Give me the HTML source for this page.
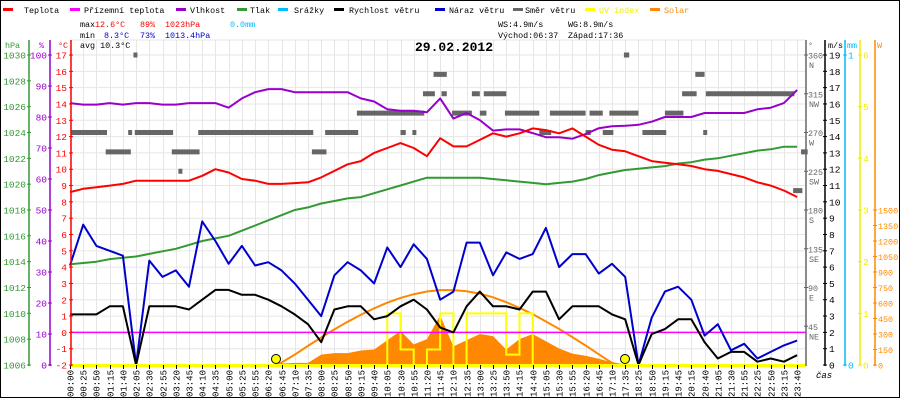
<!DOCTYPE html>
<html><head><meta charset="utf-8"><style>
html,body{margin:0;padding:0;background:#fff}
svg{display:block;font-family:"Liberation Mono",monospace}
</style></head><body>
<svg id="chart" width="900" height="400" viewBox="0 0 900 400">
<rect x="0.5" y="0.5" width="899" height="397" fill="#fff" stroke="#000"/>
<g id="grid"></g>
<g id="series"></g>
<g id="axes"></g>
<g font-size="8.4">
 <g><rect x="3" y="8" width="10" height="3" fill="#f00"/><text x="24" y="13">Teplota</text></g>
 <g><rect x="70" y="8" width="10" height="3" fill="#f0f"/><text x="84" y="13">Přízemní teplota</text></g>
 <g><rect x="176" y="8" width="10" height="3" fill="#90c"/><text x="190" y="13">Vlhkost</text></g>
 <g><rect x="237" y="8" width="10" height="3" fill="#393"/><text x="250" y="13">Tlak</text></g>
 <g><rect x="278" y="8" width="10" height="3" fill="#0bf"/><text x="294" y="13">Srážky</text></g>
 <g><rect x="334" y="8" width="10" height="3" fill="#000"/><text x="349" y="13">Rychlost větru</text></g>
 <g><rect x="435" y="8" width="10" height="3" fill="#00c"/><text x="449" y="13">Náraz větru</text></g>
 <g><rect x="513" y="8" width="10" height="3" fill="#666"/><text x="525" y="13">Směr větru</text></g>
 <g><rect x="585" y="8" width="10" height="3" fill="#ff0"/><text x="599" y="13" fill="#ee0">UV index</text></g>
 <g><rect x="650" y="8" width="10" height="3" fill="#f80"/><text x="664" y="13" fill="#f80">Solar</text></g>
</g>
<g font-size="8.4">
 <text x="80" y="27">max</text>
 <text x="95" y="27" fill="#f00">12.6°C</text>
 <text x="140" y="27" fill="#f00">89%</text>
 <text x="165" y="27" fill="#f00">1023hPa</text>
 <text x="230" y="27" fill="#0bf">0.0mm</text>
 <text x="80" y="38">min</text>
 <text x="104" y="38" fill="#00c">8.3°C</text>
 <text x="140" y="38" fill="#00c">73%</text>
 <text x="165" y="38" fill="#00c">1013.4hPa</text>
 <text x="80" y="48">avg 10.3°C</text>
 <text x="498" y="27">WS:4.9m/s</text>
 <text x="568" y="27">WG:8.9m/s</text>
 <text x="498" y="38">Východ:06:37</text>
 <text x="568" y="38">Západ:17:36</text>
</g>
<text x="415" y="51" font-size="13" font-weight="bold">29.02.2012</text>
<text x="816" y="378" font-size="9" font-style="italic">čas</text>
</svg>
<script>
const timeLabels=["00:00","00:25","00:50","01:15","01:40","02:05","02:30","02:55","03:20","03:45","04:10","04:35","05:00","05:25","05:55","06:20","06:45","07:10","07:35","08:00","08:25","08:50","09:15","09:40","10:05","10:30","10:55","11:20","11:45","12:10","12:35","13:00","13:25","13:50","14:15","14:40","15:05","15:30","15:55","16:20","16:45","17:10","17:35","18:25","18:50","19:15","19:45","20:15","20:40","21:05","21:30","21:55","22:25","22:50","23:15","23:40"];
const tempC=[8.6,8.8,8.9,9.0,9.1,9.3,9.3,9.3,9.3,9.3,9.6,10.0,9.8,9.4,9.3,9.1,9.1,9.15,9.2,9.5,9.9,10.3,10.5,11.0,11.3,11.6,11.3,10.8,11.9,11.4,11.4,11.8,12.2,12.0,12.2,12.5,12.4,12.2,12.5,12.0,11.5,11.2,11.1,10.8,10.5,10.4,10.3,10.2,10.0,9.9,9.7,9.5,9.2,9.0,8.7,8.3];
const humidity=[84.5,84,84,84.5,84,84.5,84.5,84,84,84.5,84.5,84.5,83,86,88,89,89,88,88,88,88,88,86,85,82.5,82,82,81.5,86,79.5,81.3,79,75.6,76,76,74.8,73.5,73.5,73,74.5,76.4,77,77.2,77.5,78.5,80,80,80,81.3,81.3,81.3,81.3,82.5,83,84.5,88.7];
const pressure=[1013.8,1013.9,1014.0,1014.2,1014.3,1014.4,1014.6,1014.8,1015.0,1015.3,1015.6,1015.8,1016.0,1016.4,1016.8,1017.2,1017.6,1018.0,1018.2,1018.5,1018.7,1018.9,1019.0,1019.3,1019.6,1019.9,1020.2,1020.5,1020.5,1020.5,1020.5,1020.5,1020.4,1020.3,1020.2,1020.1,1020.0,1020.1,1020.2,1020.4,1020.7,1020.9,1021.1,1021.2,1021.3,1021.4,1021.6,1021.7,1021.9,1022.0,1022.2,1022.4,1022.6,1022.7,1022.9,1022.9];
const windGust=[6.1,8.6,7.3,7.0,6.7,0,6.4,5.4,5.8,4.8,8.8,7.6,6.2,7.3,6.1,6.3,5.8,5.0,4.0,3.0,5.5,6.3,5.8,5.0,7.2,6.0,7.4,6.5,4.0,4.5,7.5,7.5,5.5,6.9,6.5,6.8,8.4,6.0,6.8,6.8,5.6,6.2,5.4,0,2.9,4.5,4.8,4.0,1.8,2.5,0.9,1.3,0.4,0.8,1.2,1.5];
const windSpeed=[3.1,3.1,3.1,3.6,3.6,0,3.6,3.6,3.6,3.4,4.0,4.6,4.6,4.3,4.3,4.0,3.6,3.1,2.5,1.4,3.4,3.6,3.6,2.8,3.0,3.6,4.0,3.4,2.3,2.0,3.6,4.5,3.6,3.6,3.4,4.5,4.5,2.8,3.6,3.6,3.6,3.1,2.8,0,1.9,2.2,2.8,2.8,1.4,0.4,0.8,0.8,0.2,0.4,0.2,0.6];
const solarIdx=[16,17,18,19,20,21,22,23,24,25,26,27,28,29,30,31,32,33,34,35,36,37,38,39,40,41,42];
const solarW=[15,20,20,100,115,115,140,150,240,330,200,250,480,180,240,300,280,150,250,300,230,160,110,90,60,25,5];
const solarMaxIdx=[15.7,17,18,19,20,21,22,23,24,25,26,27,28,29,30,31,32,33,34,35,36,37,38,39,40,41,41.7];
const solarMaxW=[0,100,185,266,345,418,486,548,603,649,685,711,724,725,714,690,655,608,553,492,421,349,270,189,103,20,0];
const uvIdx=[23,24,25,26,27,28,29,30,31,32,33,34,35];
const uvVal=[0,1,0.3,0,0.3,1,0,1,1,1,0.2,1,0];
const dirStart=[0.1,2.7,4.4,4.8,4.9,7.7,8.2,9.7,18.3,19.3,21.7,25.0,25.9,26.7,27.5,28.1,28.9,30.4,31.0,31.3,32.9,35.5,36.3,39.0,39.3,40.3,40.8,41.9,43.3,45.0,46.3,47.3,48.1,47.9,54.7,55.3];
const dirEnd=[2.8,4.6,4.7,5.1,7.8,9.8,8.5,18.4,19.4,21.8,26.8,25.4,26.2,27.6,28.5,28.5,30.4,31.0,31.5,33.0,35.5,36.4,39.0,39.4,40.3,41.1,43.0,42.3,45.1,46.4,47.4,48.0,54.8,48.2,55.4,55.8];
const dirDeg=[270,247.5,270,360,270,247.5,225,270,247.5,270,292.5,270,270,315,337.5,315,292.5,315,292.5,315,292.5,270,292.5,270,292.5,270,292.5,360,270,292.5,315,337.5,315,270,202.5,247.5];

const NS='http://www.w3.org/2000/svg';
const X0=70, DX=13.22, YT=55, YB=365;
const xAt=i=>X0+DX*i;
const yTemp=v=>332.4-v*16.316;
const yHum=v=>YB-(YB-YT)*v/100;
const yPress=v=>YB-(YB-YT)*(v-1006)/24;
const yWind=v=>YB-(YB-YT)*v/19;
const yDir=v=>YB-(YB-YT)*v/360;
const ySolar=v=>YB-155*v/1500;
const yUV=v=>YB-(YB-YT)*v/6;
function mk(tag,attrs,parent){const e=document.createElementNS(NS,tag);for(const k in attrs)e.setAttribute(k,attrs[k]);parent.appendChild(e);return e;}
const grid=document.getElementById('grid'),series=document.getElementById('series'),axes=document.getElementById('axes');

for(let t=-2;t<=17;t++){const l=mk('line',{x1:71,x2:806,y1:yTemp(t),y2:yTemp(t),stroke:'#e6e6e6'},grid);

}
mk('line',{x1:71,x2:806,y1:40,y2:40,stroke:'#e6e6e6'},grid);
timeLabels.forEach((lab,i)=>{const x=Math.round(xAt(i))+0.5;
const g=mk('line',{x1:x,x2:x,y1:40,y2:365,stroke:'#e6e6e6'},grid);


const tk=mk('line',{x1:x,x2:x,y1:365,y2:369,stroke:'#000'},axes);


const t=mk('text',{transform:`translate(${x+3},370) rotate(-90)`,'text-anchor':'end','font-size':'9'},axes);
t.textContent=lab;

});

let d=`M${xAt(solarIdx[0])},${YB}`;solarIdx.forEach((s,k)=>{d+=` L${xAt(s)},${ySolar(solarW[k])}`;});d+=` L${xAt(solarIdx[solarIdx.length-1])},${YB} Z`;
const sa=mk('path',{d:d,fill:'#f80'},series);


const sm=mk('polyline',{points:solarMaxIdx.map((s,k)=>`${xAt(s)},${ySolar(solarMaxW[k])}`).join(' '),fill:'none',stroke:'#f80','stroke-width':2},series);


let up=[];uvIdx.forEach((s,k)=>{up.push(`${xAt(s)},${yUV(uvVal[k])}`);if(k<uvIdx.length-1)up.push(`${xAt(uvIdx[k+1])},${yUV(uvVal[k])}`);});
const uv=mk('polyline',{points:up.join(' '),fill:'none',stroke:'#ff0','stroke-width':2},series);


const gt=mk('line',{x1:71,x2:806,y1:yTemp(0),y2:yTemp(0),stroke:'#f0f','stroke-width':1.5},series);


dirDeg.forEach((v,k)=>{const r=mk('rect',{x:xAt(dirStart[k]),y:yDir(v)-2.5,width:Math.max(3,(dirEnd[k]-dirStart[k])*DX),height:5,fill:'#666'},series);

});
function line(arr,fy,color,name){const p=mk('polyline',{points:arr.map((v,i)=>`${xAt(i).toFixed(1)},${fy(v).toFixed(1)}`).join(' '),fill:'none',stroke:color,'stroke-width':2,'stroke-linejoin':'round'},series);

}
line(pressure,yPress,'#393','pressure-line');
line(humidity,yHum,'#90c','humidity-line');
line(tempC,yTemp,'#f00','temperature-line');
line(windGust,yWind,'#00c','wind-gust-line');
line(windSpeed,yWind,'#000','wind-speed-line');
[276,625].forEach((x,k)=>{const c=mk('circle',{cx:x,cy:359,r:4.5,fill:'#ff0',stroke:'#000'},series);

});
const bl=mk('line',{x1:71,x2:806,y1:365.5,y2:365.5,stroke:'#ff0','stroke-width':3},series);



function axis(x,color,name,title,titleX){const a=mk('line',{x1:x,x2:x,y1:40,y2:366,stroke:color,'stroke-width':1.5},axes);


const t=mk('text',{x:titleX,y:48,fill:color,'font-size':'8.4'},axes);t.textContent=title;

}
function tick(x,y,color,label,lx,anchor,name,fs){const l=mk('line',{x1:x-2,x2:x+2,y1:y,y2:y,stroke:color},axes);


const t=mk('text',{x:lx,y:y+3.5,fill:color,'font-size':fs||'9.5','text-anchor':anchor},axes);t.textContent=label;

}
axis(29,'#393','pressure-axis','hPa',5);
axis(50,'#90c','humidity-axis','%',39);
axis(71,'#f00','temperature-axis','°C',58);
axis(806,'#666','direction-axis','°',808);
axis(825,'#000','wind-axis','m/s',828);
axis(845,'#0bf','rain-axis','mm',847);
axis(860,'#ee0','uv-axis','',862);
axis(875,'#f80','solar-axis','W',877);
for(let p=1006;p<=1030;p+=2)tick(29,yPress(p),'#393',String(p),26,'end','pressure');
for(let h=0;h<=100;h+=10)tick(50,yHum(h),'#90c',String(h),47,'end','humidity');
for(let t=-2;t<=17;t++)tick(71,yTemp(t),'#f00',String(t),67,'end','temperature');
for(let w=0;w<=19;w++)tick(825,yWind(w),'#000',String(w),829,'start','wind');
tick(845,yWind(19),'#0bf','1',848,'start','rain');tick(845,YB,'#0bf','0',848,'start','rain');
for(let u=0;u<=6;u++)tick(860,yUV(u),'#ee0',String(u),863,'start','uv');
for(let s=0;s<=1500;s+=150)tick(875,ySolar(s),'#f80',String(s),878,'start','solar','8.4');
const comp=['','NE','E','SE','S','SW','W','NW','N'];
for(let k=1;k<=8;k++){const y=yDir(k*45);tick(806,y,'#666',String(k*45),808,'start','direction','8.4');
const c=mk('text',{x:809,y:y+13,fill:'#666','font-size':'8.4'},axes);c.textContent=comp[k];

}
</script>
</body></html>
